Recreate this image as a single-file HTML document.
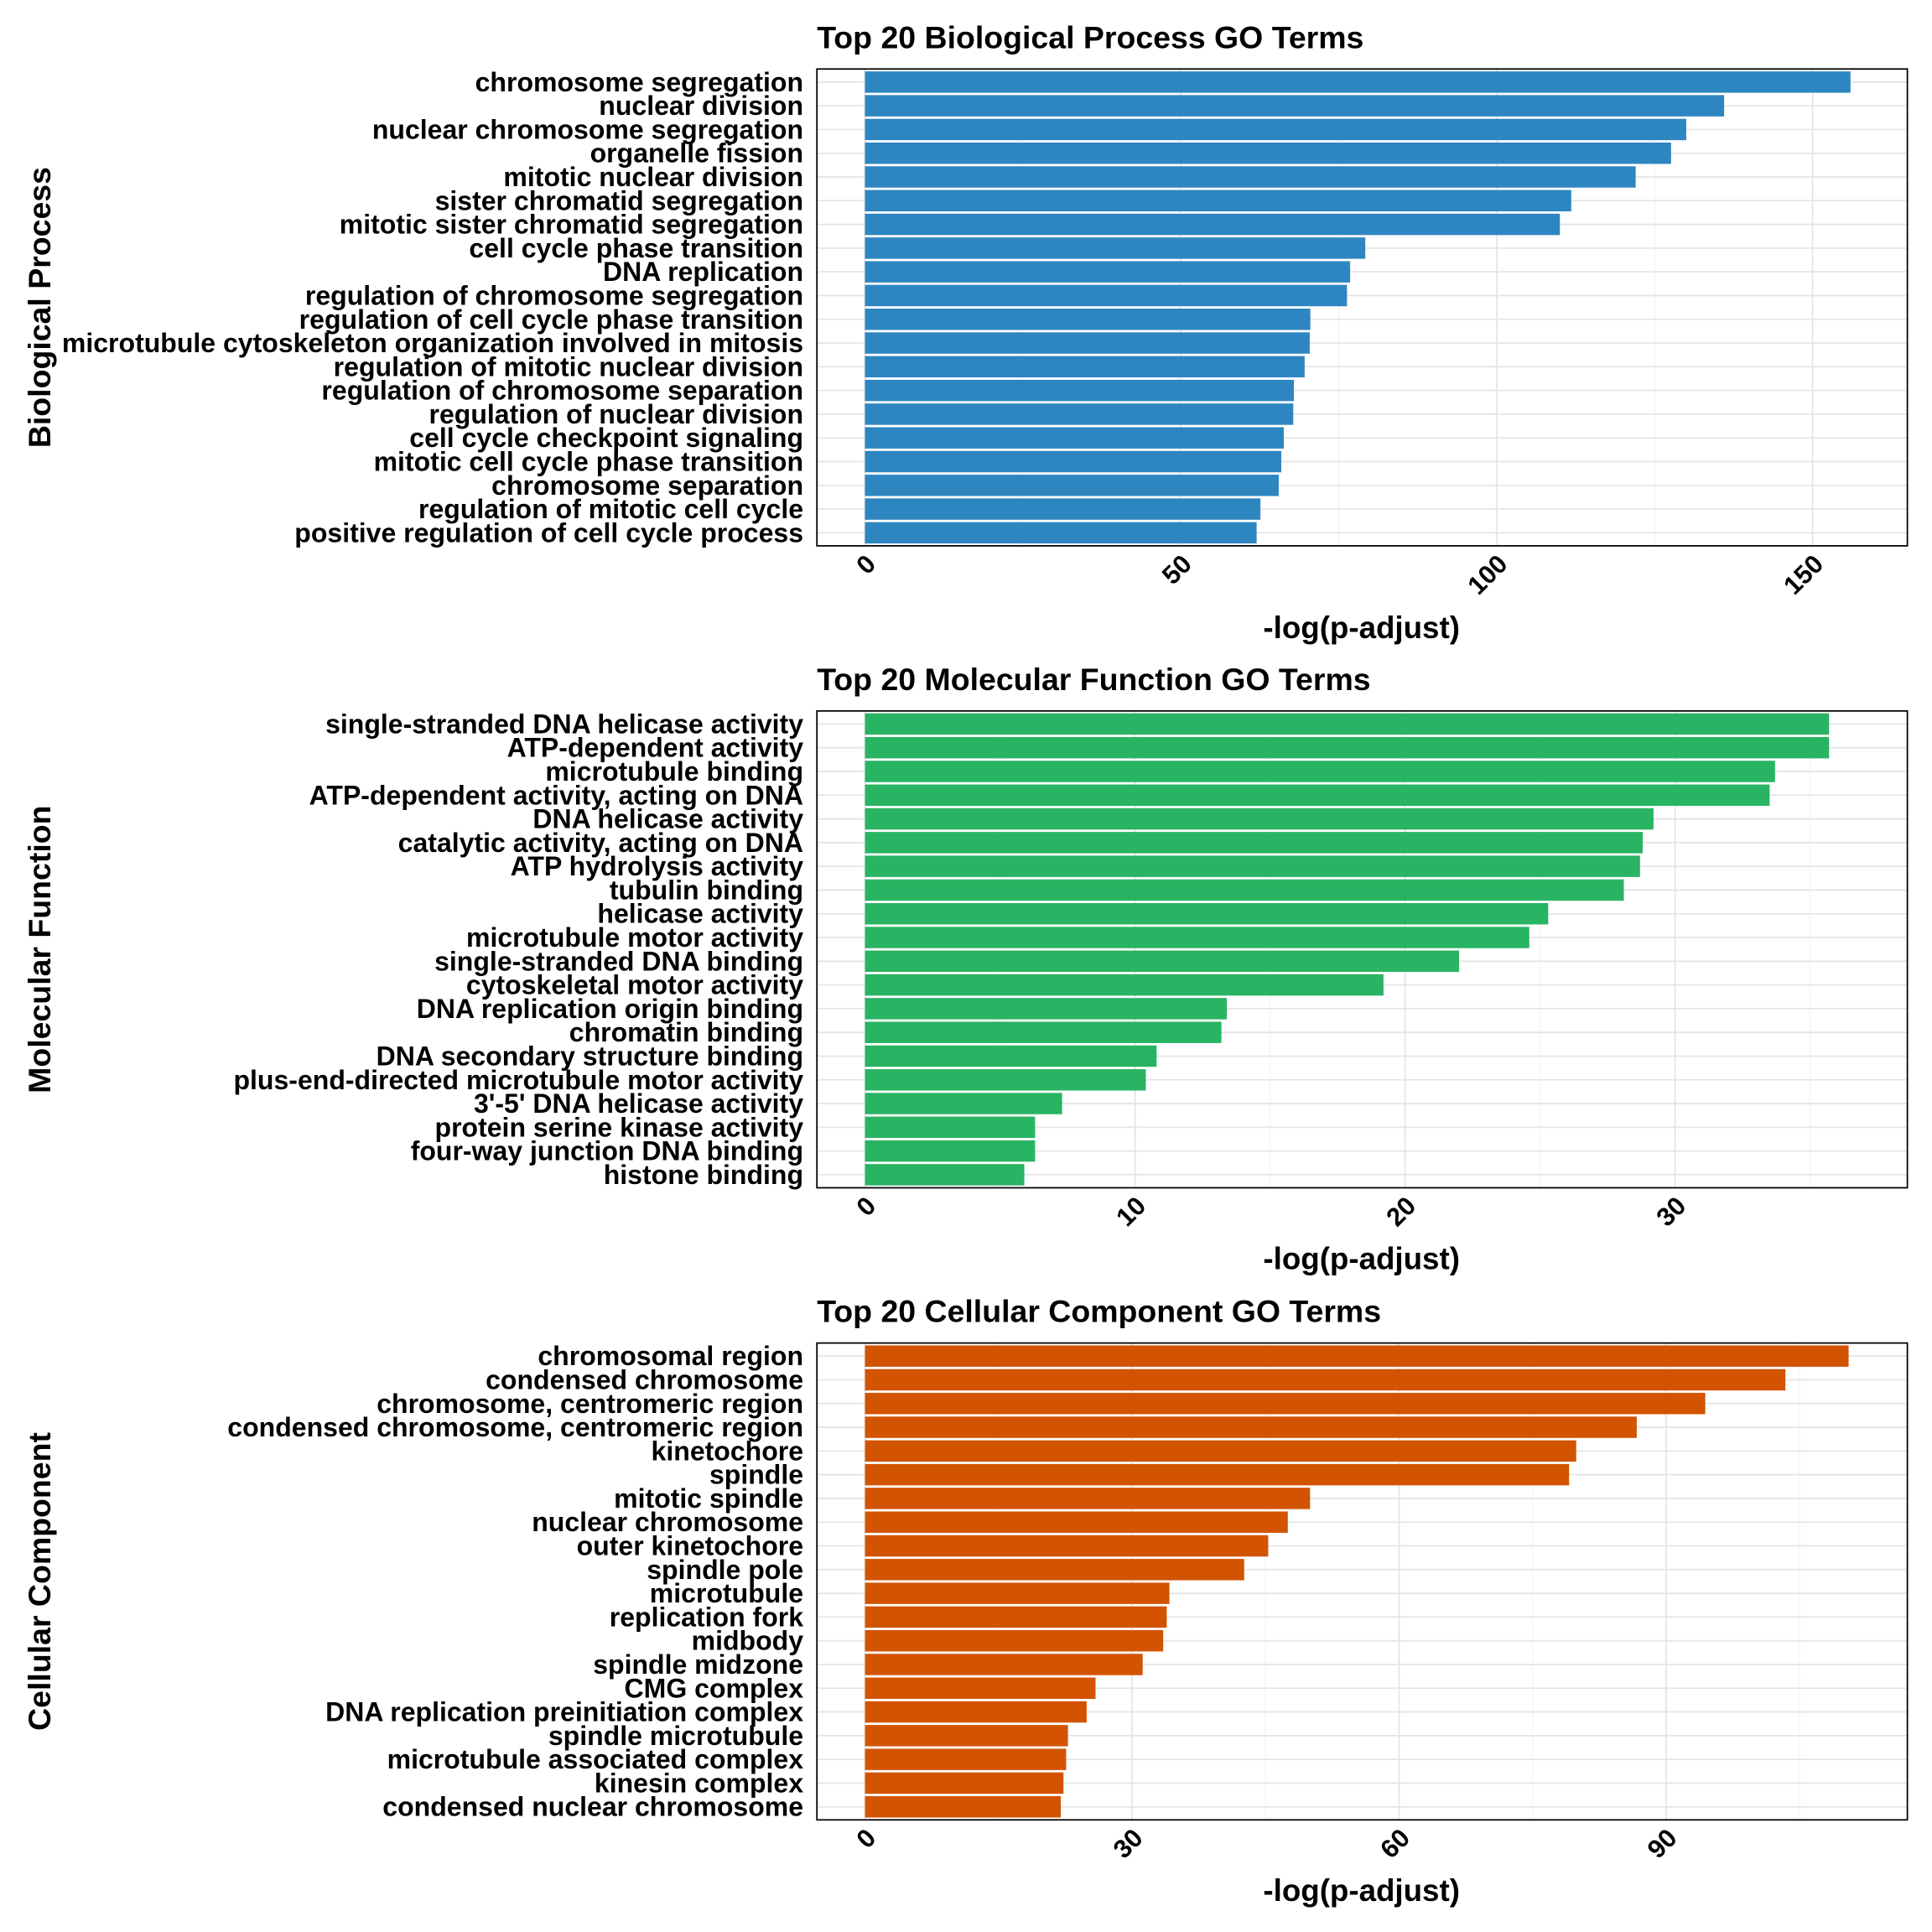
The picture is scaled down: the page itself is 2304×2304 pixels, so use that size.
<!DOCTYPE html>
<html><head><meta charset="utf-8"><style>
html,body{margin:0;padding:0;background:#fff}
svg{display:block}
text{font-family:"Liberation Sans",sans-serif;font-weight:bold;fill:#000}
</style></head><body>
<svg id="chart" width="2304" height="2304" viewBox="0 0 1568 1568" xmlns="http://www.w3.org/2000/svg"></svg>
<script>
const bpTerms=["chromosome segregation","nuclear division","nuclear chromosome segregation","organelle fission","mitotic nuclear division","sister chromatid segregation","mitotic sister chromatid segregation","cell cycle phase transition","DNA replication","regulation of chromosome segregation","regulation of cell cycle phase transition","microtubule cytoskeleton organization involved in mitosis","regulation of mitotic nuclear division","regulation of chromosome separation","regulation of nuclear division","cell cycle checkpoint signaling","mitotic cell cycle phase transition","chromosome separation","regulation of mitotic cell cycle","positive regulation of cell cycle process"];
const bpValues=[156,136,130,127.6,122,111.8,110,79.2,76.8,76.3,70.5,70.4,69.6,67.9,67.8,66.3,65.9,65.5,62.6,62.0];
const bpTicks=[0,50,100,150];
const mfTerms=["single-stranded DNA helicase activity","ATP-dependent activity","microtubule binding","ATP-dependent activity, acting on DNA","DNA helicase activity","catalytic activity, acting on DNA","ATP hydrolysis activity","tubulin binding","helicase activity","microtubule motor activity","single-stranded DNA binding","cytoskeletal motor activity","DNA replication origin binding","chromatin binding","DNA secondary structure binding","plus-end-directed microtubule motor activity","3'-5' DNA helicase activity","protein serine kinase activity","four-way junction DNA binding","histone binding"];
const mfValues=[35.7,35.7,33.7,33.5,29.2,28.8,28.7,28.1,25.3,24.6,22.0,19.2,13.4,13.2,10.8,10.4,7.3,6.3,6.3,5.9];
const mfTicks=[0,10,20,30];
const ccTerms=["chromosomal region","condensed chromosome","chromosome, centromeric region","condensed chromosome, centromeric region","kinetochore","spindle","mitotic spindle","nuclear chromosome","outer kinetochore","spindle pole","microtubule","replication fork","midbody","spindle midzone","CMG complex","DNA replication preinitiation complex","spindle microtubule","microtubule associated complex","kinesin complex","condensed nuclear chromosome"];
const ccValues=[110.5,103.4,94.4,86.7,79.9,79.1,50.0,47.5,45.3,42.6,34.2,33.9,33.5,31.2,25.9,24.9,22.8,22.6,22.3,22.0];
const ccTicks=[0,30,60,90];

const NS="http://www.w3.org/2000/svg";
const svg=document.getElementById('chart');
function mk(tag,attrs,parent){const e=document.createElementNS(NS,tag);for(const k in attrs)e.setAttribute(k,attrs[k]);(parent||svg).appendChild(e);return e;}

function panel(key,title,ytitle,terms,values,ticks,color,top,xmin,xmax,xtOff){
  const g=mk('g',{});
  
  
  const L=663,R=1548,T=top,B=top+387;
  const x=v=>L+(v-xmin)/(xmax-xmin)*(R-L);
  const n=terms.length;
  const band=(B-T)/(n+0.1);
  const y=i=>T+band*(0.05+i+0.5);
  for(let k=0;k<ticks.length;k++){
    const step=ticks[1]-ticks[0];
    const mv=ticks[k]+step/2;
    if(x(mv)<R){const l=mk('line',{x1:x(mv),x2:x(mv),y1:T,y2:B,stroke:'#f2f2f2','stroke-width':0.8},g);
      }
  }
  ticks.forEach(t=>{const l=mk('line',{x1:x(t),x2:x(t),y1:T,y2:B,stroke:'#e5e5e5','stroke-width':1.2},g);
    });
  terms.forEach((t,i)=>{const l=mk('line',{x1:L,x2:R,y1:y(i),y2:y(i),stroke:'#e5e5e5','stroke-width':1.2},g);
    });
  values.forEach((v,i)=>{
    const r=mk('rect',{x:x(0),y:y(i)-band*0.45,width:x(v)-x(0),height:band*0.9,fill:color},g);
    
    
    const tx=mk('text',{x:652,y:y(i)+7.5,'text-anchor':'end','font-size':21.8},g);
    tx.textContent=terms[i];
    
    
  });
  const box=mk('rect',{x:L,y:T,width:R-L,height:B-T,fill:'none',stroke:'#000','stroke-width':1.2},g);
  
  ticks.forEach(t=>{
    const tx=mk('text',{x:x(t)+10,y:B+16,'text-anchor':'end','font-size':21,transform:`rotate(-45 ${x(t)+10} ${B+16})`},g);
    tx.textContent=t;
    
  });
  const tt=mk('text',{x:663,y:T-17,'font-size':25.5},g);tt.textContent=title;
  
  const xt=mk('text',{x:1105,y:B+xtOff,'text-anchor':'middle','font-size':25},g);xt.textContent='-log(p-adjust)';
  
  const cy=(T+B)/2;
  const yt=mk('text',{x:41,y:cy,'text-anchor':'middle','font-size':25.5,transform:`rotate(-90 41 ${cy})`},g);yt.textContent=ytitle;
  
}
panel('bp','Top 20 Biological Process GO Terms','Biological Process',bpTerms,bpValues,bpTicks,'#2e86c1',56,-7.6,165,75);
panel('mf','Top 20 Molecular Function GO Terms','Molecular Function',mfTerms,mfValues,mfTicks,'#28b463',577,-1.78,38.6,66);
panel('cc','Top 20 Cellular Component GO Terms','Cellular Component',ccTerms,ccValues,ccTicks,'#d35400',1090,-5.4,117.1,66);
</script>
</body></html>
